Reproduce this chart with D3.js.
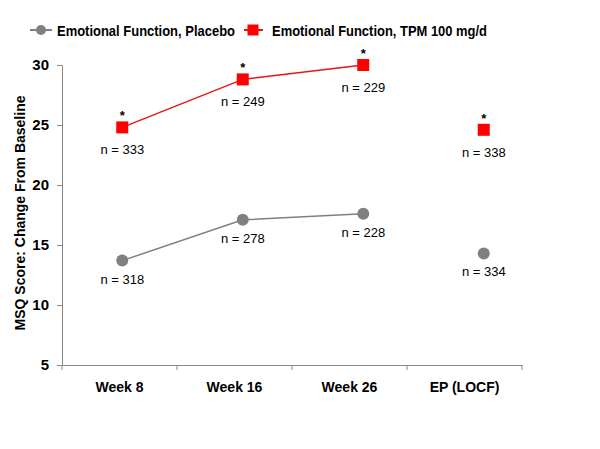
<!DOCTYPE html>
<html><head><meta charset="utf-8">
<script src="https://cdn.jsdelivr.net/npm/d3@7"></script>
<style>body{margin:0;background:#fff}svg{font-family:"Liberation Sans",Arial,Helvetica,sans-serif}</style>
</head><body>
<svg id="c" width="600" height="449"></svg>
<script>
const categories = ["Week 8", "Week 16", "Week 26", "EP (LOCF)"];
const placebo = [13.7, 17.1, 17.6, 14.3];
const tpm = [24.8, 28.8, 30.0, 24.6];
const placeboN = ["n = 318", "n = 278", "n = 228", "n = 334"];
const tpmN = ["n = 333", "n = 249", "n = 229", "n = 338"];
const tpmStar = [true, true, true, true];
const yTicks = [5, 10, 15, 20, 25, 30];
const seriesNames = ["Emotional Function, Placebo", "Emotional Function, TPM 100 mg/d"];

const svg = d3.select("#c");
const y = d3.scaleLinear().domain([5, 30]).range([365, 65]);
const xAxisScale = d3.scaleBand().domain(categories).range([62, 522]);
const xPts = d3.scaleBand().domain(categories).range([62, 544]);
const cx = d => xPts(d) + xPts.bandwidth() / 2;

// Y axis
const ya = svg.append("g").attr("transform", "translate(62,0)")
  .call(d3.axisLeft(y).tickValues(yTicks).tickSize(5).tickPadding(8));
ya.select(".domain").attr("stroke", "#888");
ya.selectAll(".tick line").attr("stroke", "#888");
ya.selectAll(".tick text").attr("font-size", 15).attr("font-weight", "bold").attr("fill", "#000")
  .attr("font-family", "Liberation Sans, Arial, sans-serif");

// X axis
const xa = svg.append("g").attr("transform", "translate(0,365)")
  .call(d3.axisBottom(xAxisScale).tickSize(0).tickPadding(17));
xa.select(".domain").attr("stroke", "#888");
xa.selectAll(".tick text").attr("font-size", 14).attr("font-weight", "bold").attr("fill", "#000")
  .attr("font-family", "Liberation Sans, Arial, sans-serif");
// boundary ticks
const bounds = categories.map(c => xAxisScale(c)).concat([xAxisScale(categories[3]) + xAxisScale.bandwidth()]);
svg.append("g").selectAll("line").data(bounds).join("line")
  .attr("x1", d => d).attr("x2", d => d).attr("y1", 365).attr("y2", 370).attr("stroke", "#888");

// Y label
svg.append("text").attr("transform", "translate(25,213) rotate(-90)")
  .attr("text-anchor", "middle").attr("font-size", 14).attr("font-weight", "bold")
  .text("MSQ Score: Change From Baseline");

// Lines (first three points connected)
const line = d3.line().x(d => cx(d.c)).y(d => y(d.v));
const pl = categories.slice(0, 3).map((c, i) => ({c, v: placebo[i]}));
const tl = categories.slice(0, 3).map((c, i) => ({c, v: tpm[i]}));
svg.append("path").attr("d", line(pl)).attr("fill", "none").attr("stroke", "#808080").attr("stroke-width", 1.5);
svg.append("path").attr("d", line(tl)).attr("fill", "none").attr("stroke", "#e8141c").attr("stroke-width", 1.5);

// Markers
svg.append("g").selectAll("circle").data(categories).join("circle")
  .attr("cx", d => cx(d)).attr("cy", (d, i) => y(placebo[i])).attr("r", 6).attr("fill", "#808080");
svg.append("g").selectAll("rect").data(categories).join("rect")
  .attr("x", d => cx(d) - 6).attr("y", (d, i) => y(tpm[i]) - 6).attr("width", 12).attr("height", 12).attr("fill", "#ff0000");

// n labels
svg.append("g").selectAll("text").data(categories).join("text")
  .attr("x", d => cx(d)).attr("y", (d, i) => y(placebo[i]) + 23).attr("text-anchor", "middle")
  .attr("font-size", 13).text((d, i) => placeboN[i]);
svg.append("g").selectAll("text").data(categories).join("text")
  .attr("x", d => cx(d)).attr("y", (d, i) => y(tpm[i]) + 27).attr("text-anchor", "middle")
  .attr("font-size", 13).text((d, i) => tpmN[i]);
// stars
svg.append("g").selectAll("text").data(categories.filter((c, i) => tpmStar[i])).join("text")
  .attr("x", d => cx(d)).attr("y", d => y(tpm[categories.indexOf(d)]) - 7).attr("text-anchor", "middle")
  .attr("font-size", 13).attr("font-weight", "bold").text("*");

// Legend
const lg = svg.append("g");
lg.append("line").attr("x1", 30).attr("x2", 52).attr("y1", 30).attr("y2", 30).attr("stroke", "#808080").attr("stroke-width", 2);
lg.append("circle").attr("cx", 41).attr("cy", 30).attr("r", 5).attr("fill", "#808080");
lg.append("text").attr("x", 57).attr("y", 35.5).attr("font-size", 15).attr("font-weight", "bold")
  .attr("textLength", 178).attr("lengthAdjust", "spacingAndGlyphs").text(seriesNames[0]);
lg.append("line").attr("x1", 244).attr("x2", 263).attr("y1", 30).attr("y2", 30).attr("stroke", "#e8141c").attr("stroke-width", 2);
lg.append("rect").attr("x", 247.5).attr("y", 24.5).attr("width", 11).attr("height", 11).attr("fill", "#ff0000");
lg.append("text").attr("x", 272).attr("y", 35.5).attr("font-size", 15).attr("font-weight", "bold")
  .attr("textLength", 215).attr("lengthAdjust", "spacingAndGlyphs").text(seriesNames[1]);
</script>
</body></html>
